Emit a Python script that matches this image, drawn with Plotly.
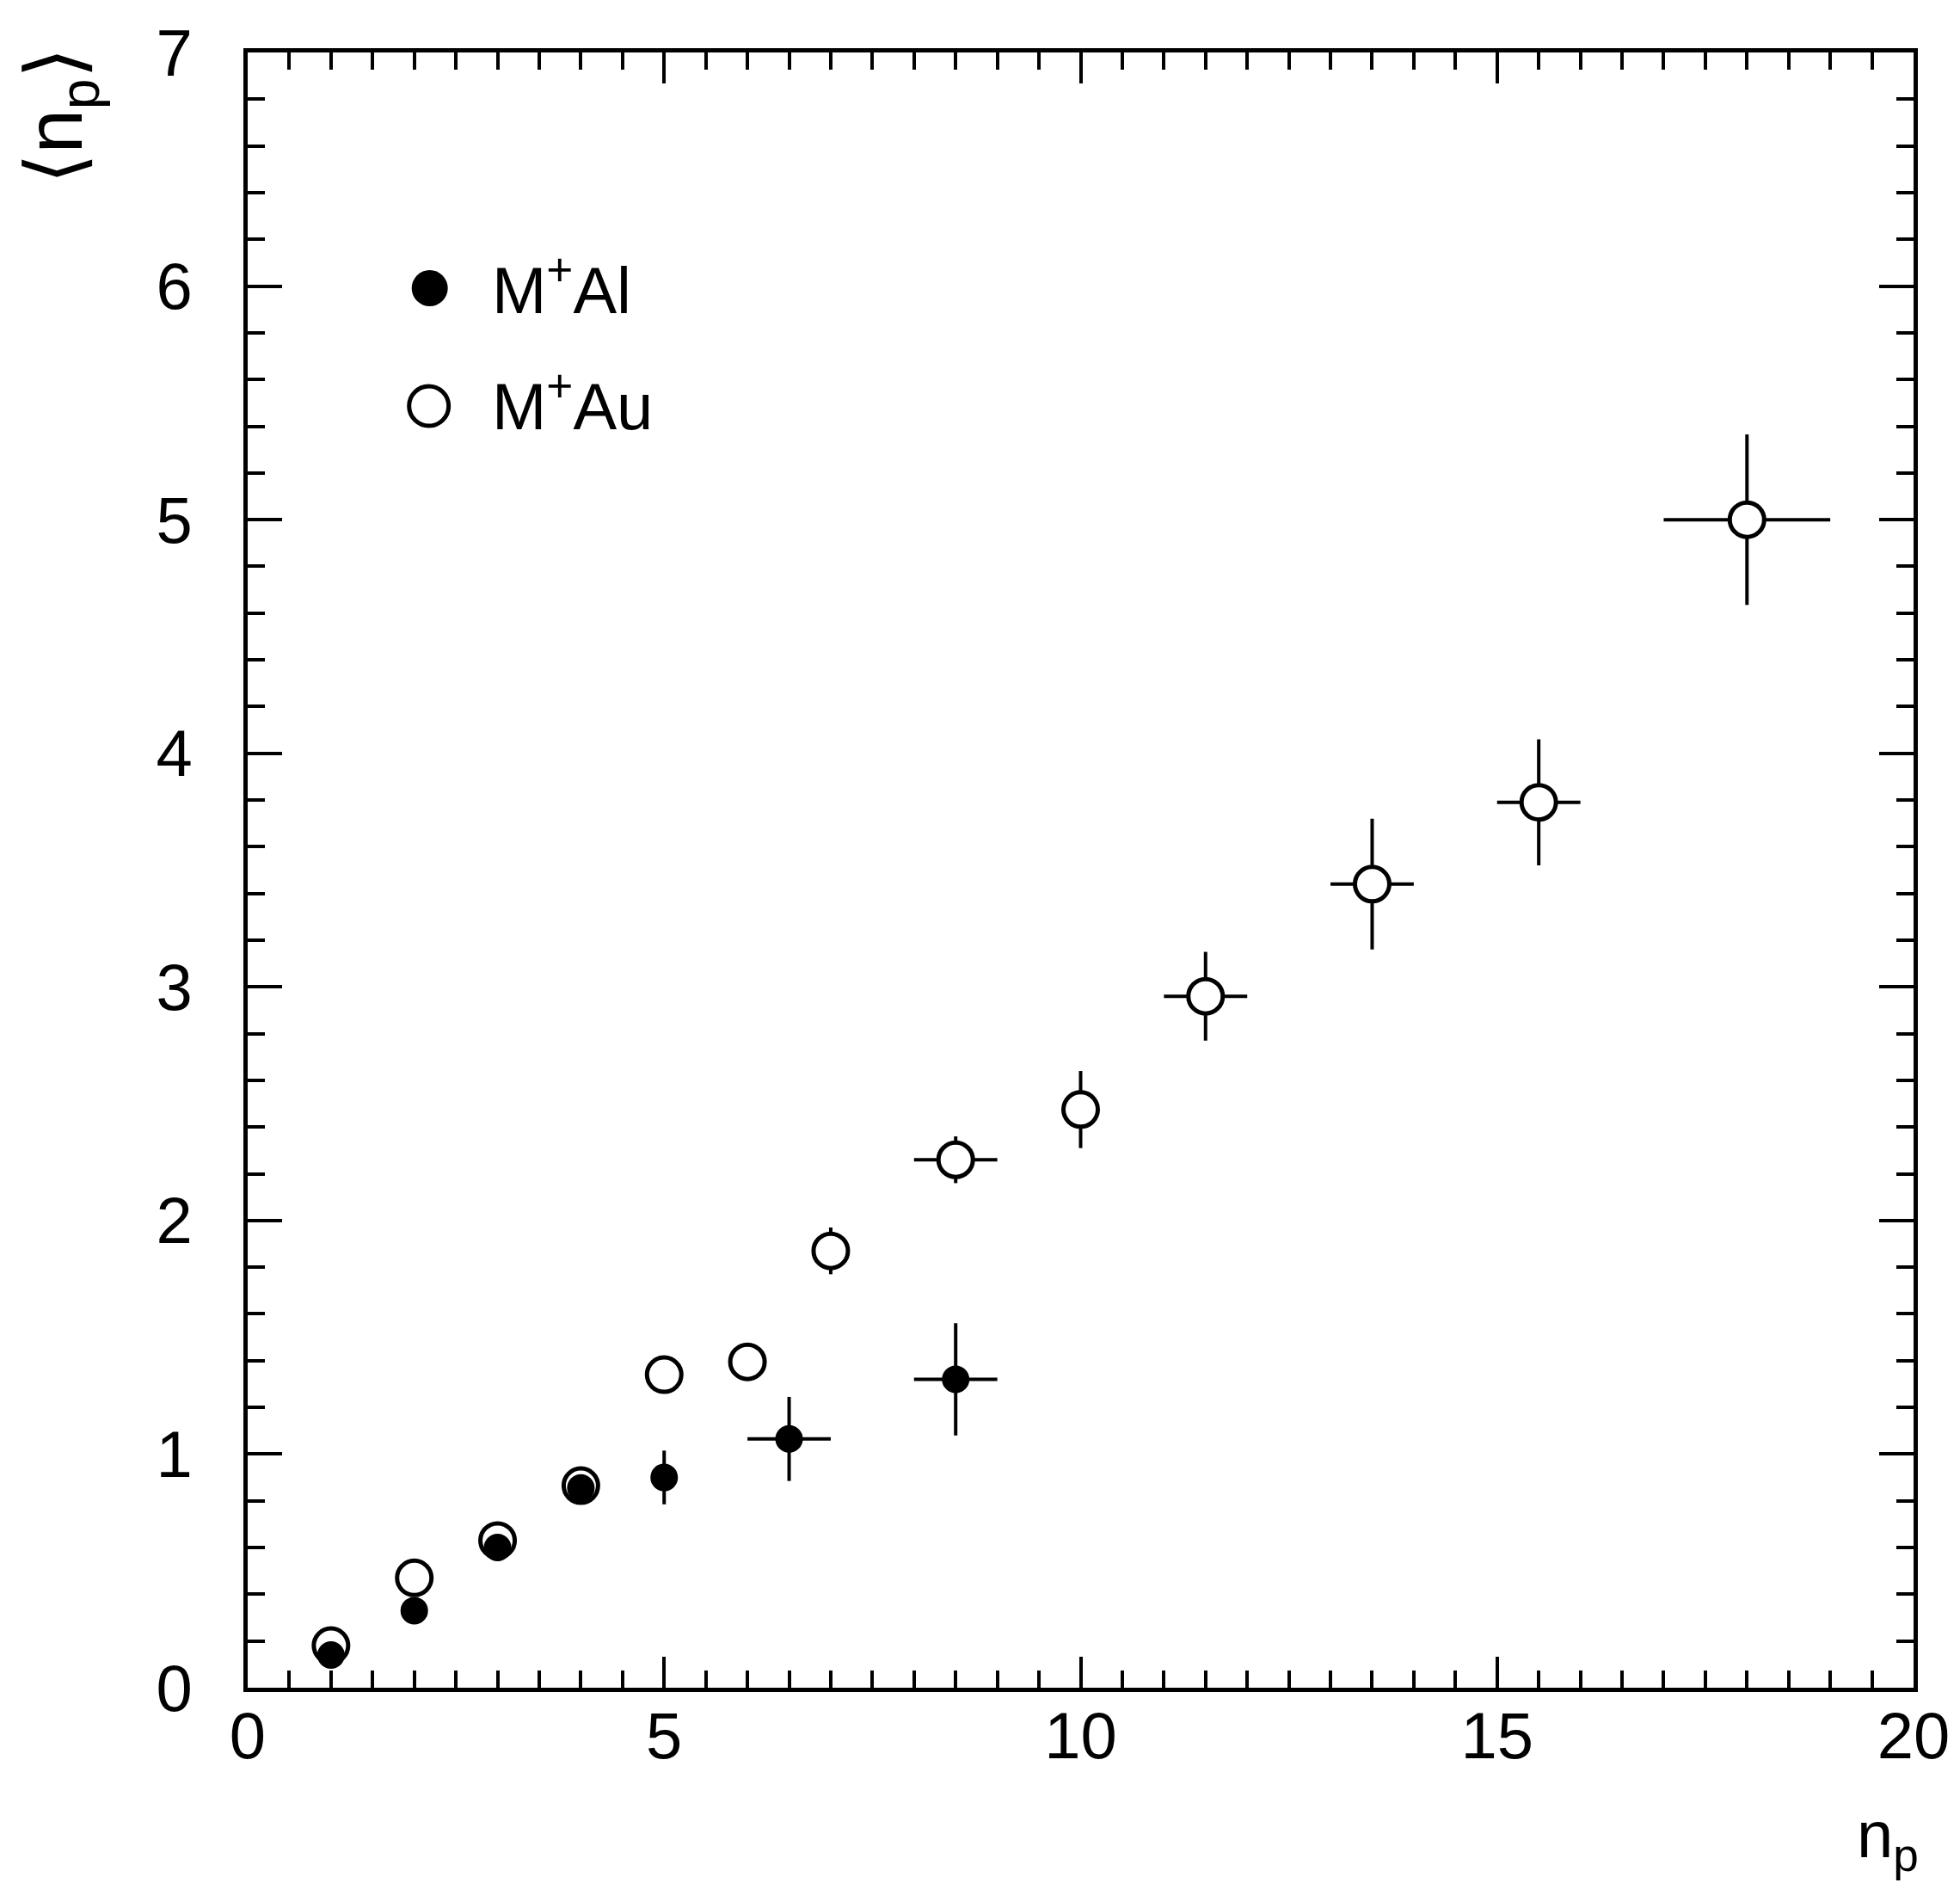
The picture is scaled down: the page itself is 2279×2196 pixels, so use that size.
import plotly.graph_objects as go

# ---- data ----
au_x = [1, 2, 3, 4, 5, 6, 7, 8.5, 10, 11.5, 13.5, 15.5, 18]
au_y = [0.18, 0.47, 0.63, 0.865, 1.34, 1.395, 1.87, 2.26, 2.475, 2.96, 3.44, 3.79, 5.00]
au_xerr = [0, 0, 0, 0, 0, 0, 0, 0.5, 0, 0.5, 0.5, 0.5, 1.0]
au_yerr = [0, 0, 0, 0, 0, 0, 0.10, 0.10, 0.165, 0.19, 0.28, 0.27, 0.365]

al_x = [1, 2, 3, 4, 5, 6.5, 8.5]
al_y = [0.14, 0.33, 0.60, 0.855, 0.90, 1.065, 1.32]
al_xerr = [0, 0, 0, 0, 0, 0.5, 0.5]
al_yerr = [0, 0, 0, 0, 0.115, 0.18, 0.24]

x_ticks = [0, 5, 10, 15, 20]
y_ticks = [0, 1, 2, 3, 4, 5, 6, 7]
legend_labels = ["M<sup>+</sup>Al", "M<sup>+</sup>Au"]

W, H = 2279, 2196
ML, MR, MT, MB = 288, 51, 61, 234
PW, PH = W - ML - MR, H - MT - MB

def px(xpix):
    return (xpix - ML) / PW

def py(ypix):
    return (H - MB - ypix) / PH

FONT = "Liberation Sans, Arial, Helvetica, sans-serif"

fig = go.Figure()

fig.add_trace(go.Scatter(
    x=au_x, y=au_y, mode="markers", name=legend_labels[1],
    marker=dict(symbol="circle", size=40, color="white",
                line=dict(color="black", width=5)),
    error_x=dict(type="data", array=au_xerr, visible=True, color="black",
                 thickness=4, width=0),
    error_y=dict(type="data", array=au_yerr, visible=True, color="black",
                 thickness=4, width=0),
    showlegend=False,
))
fig.add_trace(go.Scatter(
    x=al_x, y=al_y, mode="markers", name=legend_labels[0],
    marker=dict(symbol="circle", size=32, color="black",
                line=dict(color="black", width=0)),
    error_x=dict(type="data", array=al_xerr, visible=True, color="black",
                 thickness=4, width=0),
    error_y=dict(type="data", array=al_yerr, visible=True, color="black",
                 thickness=4, width=0),
    showlegend=False,
))

axis_common = dict(
    showline=True, linecolor="black", linewidth=5, mirror="ticks",
    ticks="inside", tickcolor="black", tickwidth=4,
    showgrid=False, zeroline=False,
    tickfont=dict(family=FONT, size=76, color="black"),
)

fig.update_xaxes(range=[0, 20], tickvals=x_ticks, ticktext=[str(v) for v in x_ticks],
                 ticklen=36, ticklabelstandoff=-14,
                 minor=dict(dtick=0.5, ticks="inside", ticklen=20, tickwidth=4,
                            tickcolor="black", showgrid=False),
                 **axis_common)
fig.update_yaxes(range=[0, 7], tickvals=y_ticks, ticktext=[str(v) for v in y_ticks],
                 ticklen=40, ticklabelstandoff=44,
                 minor=dict(dtick=0.2, ticks="inside", ticklen=20, tickwidth=4,
                            tickcolor="black", showgrid=False),
                 **axis_common)

# legend drawn manually
fig.add_shape(type="circle", xref="paper", yref="paper",
              xsizemode="pixel", ysizemode="pixel",
              xanchor=px(500), yanchor=py(335),
              x0=-21, x1=21, y0=-21, y1=21,
              fillcolor="black", line=dict(color="black", width=0))
fig.add_shape(type="circle", xref="paper", yref="paper",
              xsizemode="pixel", ysizemode="pixel",
              xanchor=px(499), yanchor=py(472),
              x0=-23, x1=23, y0=-23, y1=23,
              fillcolor="white", line=dict(color="black", width=5))

fig.add_annotation(text=legend_labels[0], xref="paper", yref="paper",
                   x=px(570), y=py(332), xanchor="left", yanchor="middle",
                   showarrow=False, font=dict(family=FONT, size=76, color="black"))
fig.add_annotation(text=legend_labels[1], xref="paper", yref="paper",
                   x=px(570), y=py(467), xanchor="left", yanchor="middle",
                   showarrow=False, font=dict(family=FONT, size=76, color="black"))

# axis titles
fig.add_annotation(text="n<sub>p</sub>", xref="paper", yref="paper",
                   x=px(2236), y=py(2138), xanchor="right", yanchor="middle",
                   showarrow=False, font=dict(family=FONT, size=76, color="black"))
fig.add_annotation(text="⟨n<sub>p</sub>⟩", xref="paper", yref="paper",
                   x=px(70), y=py(135), xanchor="center", yanchor="middle",
                   textangle=-90, showarrow=False,
                   font=dict(family=FONT, size=92, color="black"))

fig.update_layout(
    width=W, height=H, autosize=False,
    margin=dict(l=ML, r=MR, t=MT, b=MB, pad=0),
    paper_bgcolor="white", plot_bgcolor="white",
    showlegend=False,
)

fig.write_html("out.html",
               config={"displayModeBar": False},
               post_script="document.body.style.margin='0';document.body.style.overflow='hidden';")
